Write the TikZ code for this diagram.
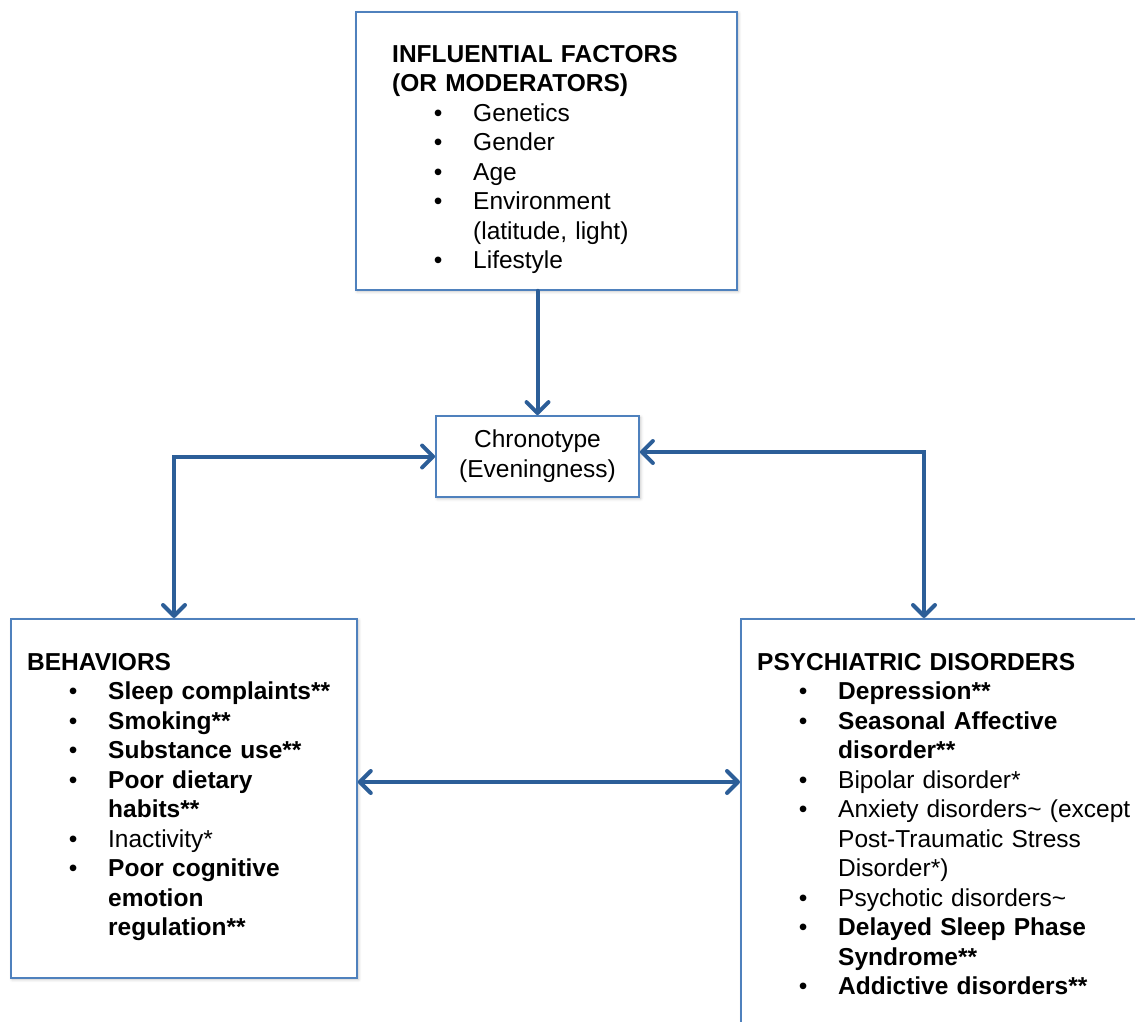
\documentclass[tikz,border=0pt]{standalone}
\usepackage{fontspec}
\setmainfont{Liberation Sans}
\usepackage{tikz}
\usetikzlibrary{arrows.meta, shadows.blur}
\definecolor{boxblue}{RGB}{79,129,189}
\definecolor{arrowblue}{RGB}{44,94,152}
\tikzstyle{panel} = [rectangle, draw=boxblue, line width=1.8pt, fill=white, inner sep=0pt, blur shadow={shadow xshift=1.5pt, shadow yshift=-1.5pt, shadow opacity=25, shadow blur radius=3pt}]
\tikzstyle{listtext} = [anchor=base west, inner sep=0pt, text width=420pt, align=left, font=\fontsize{24.5}{29.5}\selectfont]
\tikzstyle{arrow} = [line width=4pt, draw=arrowblue, line cap=round, ->, >={Straight Barb[length=11pt,width=22pt,line cap=round,line join=round]}]
\newcommand{\itm}[1]{\hspace*{46pt}\makebox[0pt]{\textbullet}\hspace*{35pt}#1}
\newcommand{\cnt}[1]{\hspace*{81pt}#1}

\begin{document}
\begin{tikzpicture}[x=1pt, y=-1pt]
\useasboundingbox (0,0) rectangle (1135,1021);
\clip (0,0) rectangle (1135,1021);

\node (factors) [panel, anchor=north west, minimum width=381pt, minimum height=278pt] at (355,11) {};
\node (factorstxt) [listtext] at (392,62) {\textbf{INFLUENTIAL FACTORS}\\
\textbf{(OR MODERATORS)}\\
\itm{Genetics}\\
\itm{Gender}\\
\itm{Age}\\
\itm{Environment}\\
\cnt{(latitude, light)}\\
\itm{Lifestyle}};

\node (chrono) [panel, minimum width=203pt, minimum height=81pt, align=center, font=\fontsize{24.5}{30}\selectfont] at (537.5,456.5) {Chronotype\\(Eveningness)};

\node (behav) [panel, anchor=north west, minimum width=346pt, minimum height=359pt] at (10,618) {};
\node (behavtxt) [listtext] at (27,670) {\textbf{BEHAVIORS}\\
\itm{\textbf{Sleep complaints**}}\\
\itm{\textbf{Smoking**}}\\
\itm{\textbf{Substance use**}}\\
\itm{\textbf{Poor dietary}}\\
\cnt{\textbf{habits**}}\\
\itm{Inactivity*}\\
\itm{\textbf{Poor cognitive}}\\
\cnt{\textbf{emotion}}\\
\cnt{\textbf{regulation**}}};

\node (psych) [panel, anchor=north west, minimum width=430pt, minimum height=450pt] at (740,618) {};
\node (psychtxt) [listtext] at (757,670) {\textbf{PSYCHIATRIC DISORDERS}\\
\itm{\textbf{Depression**}}\\
\itm{\textbf{Seasonal Affective}}\\
\cnt{\textbf{disorder**}}\\
\itm{Bipolar disorder*}\\
\itm{Anxiety disorders\textasciitilde{} (except}\\
\cnt{Post-Traumatic Stress}\\
\cnt{Disorder*)}\\
\itm{Psychotic disorders\textasciitilde}\\
\itm{\textbf{Delayed Sleep Phase}}\\
\cnt{\textbf{Syndrome**}}\\
\itm{\textbf{Addictive disorders**}}};

% turning points of the side connectors
\coordinate (lturn) at (174,456.5);
\coordinate (rturn) at (924,452);
\coordinate (midline) at (0,782);

\draw [arrow] (chrono.north |- factors.south) -- (chrono.north);
\draw [arrow, <->] (chrono.west) -- (lturn) -- (lturn |- behav.north);
\draw [arrow, <->] (chrono.east |- rturn) -- (rturn) -- (rturn |- psych.north);
\draw [arrow, <->] (behav.east |- midline) -- (psych.west |- midline);

\end{tikzpicture}
\end{document}
